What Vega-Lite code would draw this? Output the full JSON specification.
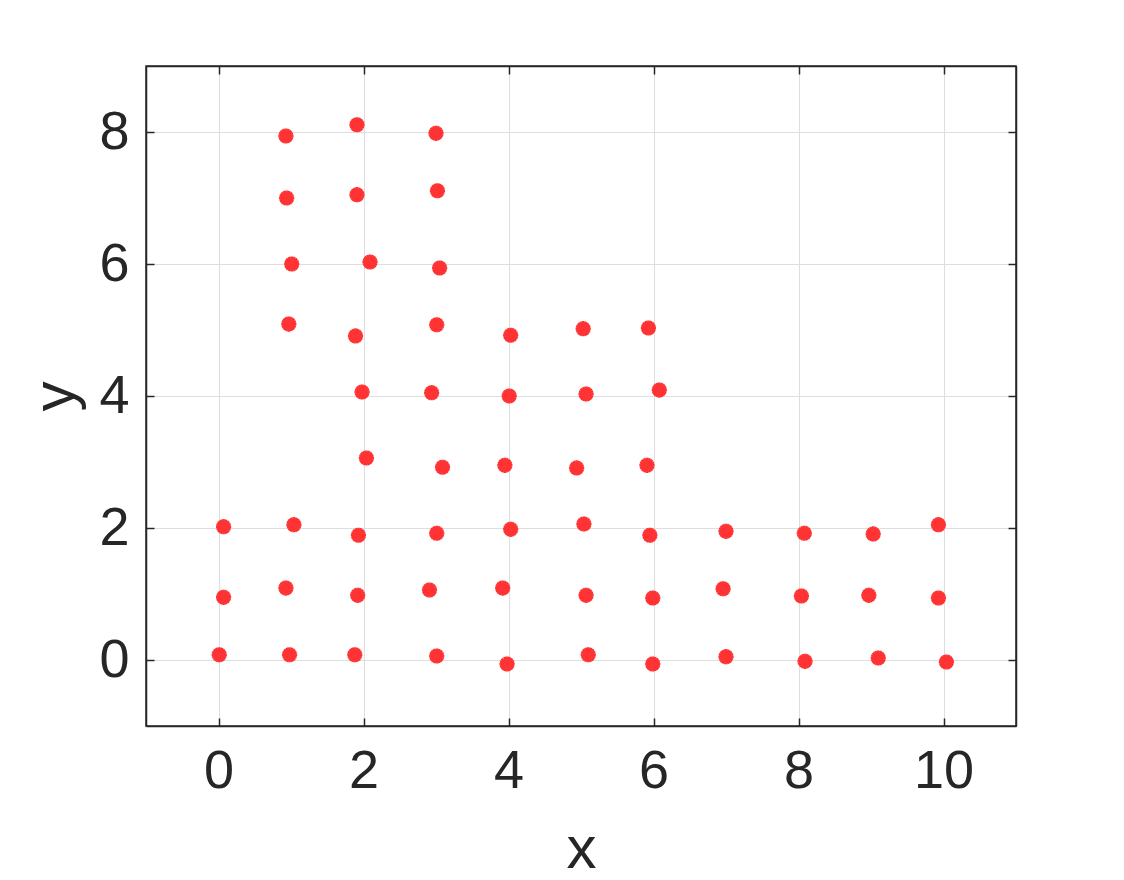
{
  "$schema": "https://vega.github.io/schema/vega-lite/v6.json",
  "width": 870,
  "height": 660,
  "autosize": "none",
  "padding": {"left": 146, "top": 66, "right": 108, "bottom": 154},
  "background": "white",
  "config": {
    "view": {"stroke": "#262626", "strokeWidth": 1.5},
    "axis": {
      "labelFont": "Liberation Sans",
      "titleFont": "Liberation Sans",
      "labelColor": "#262626",
      "titleColor": "#262626",
      "labelFontSize": 54,
      "titleFontSize": 60,
      "titleFontWeight": "normal",
      "domainColor": "#262626",
      "domainWidth": 1.5,
      "tickColor": "#262626",
      "tickSize": -8,
      "tickWidth": 1.5,
      "gridColor": "#dedede",
      "gridWidth": 1
    }
  },
  "data": {"values": [
    {"x": 0.01, "y": 0.08}, {"x": 0.98, "y": 0.08}, {"x": 1.88, "y": 0.08}, {"x": 3.01, "y": 0.06}, {"x": 3.98, "y": -0.06}, {"x": 5.10, "y": 0.08}, {"x": 5.99, "y": -0.06}, {"x": 7.00, "y": 0.05}, {"x": 8.09, "y": -0.02}, {"x": 9.10, "y": 0.03}, {"x": 10.04, "y": -0.03},
    {"x": 0.07, "y": 0.95}, {"x": 0.93, "y": 1.09}, {"x": 1.92, "y": 0.98}, {"x": 2.91, "y": 1.06}, {"x": 3.92, "y": 1.09}, {"x": 5.07, "y": 0.98}, {"x": 5.99, "y": 0.94}, {"x": 6.96, "y": 1.08}, {"x": 8.04, "y": 0.97}, {"x": 8.97, "y": 0.98}, {"x": 9.93, "y": 0.94},
    {"x": 0.07, "y": 2.02}, {"x": 1.04, "y": 2.05}, {"x": 1.93, "y": 1.89}, {"x": 3.01, "y": 1.92}, {"x": 4.03, "y": 1.98}, {"x": 5.04, "y": 2.06}, {"x": 5.95, "y": 1.89}, {"x": 7.00, "y": 1.95}, {"x": 8.08, "y": 1.92}, {"x": 9.03, "y": 1.91}, {"x": 9.93, "y": 2.05},
    {"x": 2.04, "y": 3.06}, {"x": 3.09, "y": 2.92}, {"x": 3.95, "y": 2.95}, {"x": 4.94, "y": 2.91}, {"x": 5.91, "y": 2.95},
    {"x": 1.98, "y": 4.06}, {"x": 2.94, "y": 4.05}, {"x": 4.01, "y": 4.00}, {"x": 5.07, "y": 4.03}, {"x": 6.08, "y": 4.09},
    {"x": 0.97, "y": 5.09}, {"x": 1.89, "y": 4.91}, {"x": 3.01, "y": 5.08}, {"x": 4.03, "y": 4.92}, {"x": 5.03, "y": 5.02}, {"x": 5.93, "y": 5.03},
    {"x": 1.01, "y": 6.00}, {"x": 2.09, "y": 6.03}, {"x": 3.05, "y": 5.94},
    {"x": 0.94, "y": 7.00}, {"x": 1.91, "y": 7.05}, {"x": 3.02, "y": 7.11},
    {"x": 0.93, "y": 7.94}, {"x": 1.91, "y": 8.11}, {"x": 3.00, "y": 7.98}
  ]},
  "layer": [
    {
      "mark": {
        "type": "point",
        "shape": "M-1,0L1,0M0,-1L0,1M-0.71,-0.71L0.71,0.71M-0.71,0.71L0.71,-0.71M-0.38,-0.92L0.38,0.92M-0.92,-0.38L0.92,0.38M-0.38,0.92L0.38,-0.92M-0.92,0.38L0.92,-0.38",
        "filled": false,
        "stroke": "#ff3333",
        "strokeWidth": 2.5,
        "size": 230,
        "opacity": 1
      },
      "encoding": {
        "x": {
          "field": "x", "type": "quantitative",
          "scale": {"domain": [-1, 11], "nice": false, "zero": false},
          "axis": {"values": [0, 2, 4, 6, 8, 10], "title": "x", "titleBaseline": "alphabetic", "titleY": 141, "labelPadding": 26, "grid": true}
        },
        "y": {
          "field": "y", "type": "quantitative",
          "scale": {"domain": [-1, 9], "nice": false, "zero": false},
          "axis": {"values": [0, 2, 4, 6, 8], "title": "y", "titleBaseline": "alphabetic", "titleX": -73, "labelPadding": 25, "grid": true}
        }
      }
    },
    {
      "mark": {"type": "point", "opacity": 0},
      "encoding": {
        "x": {
          "field": "x", "type": "quantitative",
          "scale": {"domain": [-1, 11], "nice": false, "zero": false},
          "axis": {"orient": "top", "values": [0, 2, 4, 6, 8, 10], "labels": false, "title": null, "grid": false}
        },
        "y": {
          "field": "y", "type": "quantitative",
          "scale": {"domain": [-1, 9], "nice": false, "zero": false},
          "axis": {"orient": "right", "values": [0, 2, 4, 6, 8], "labels": false, "title": null, "grid": false}
        }
      }
    }
  ],
  "resolve": {"axis": {"x": "independent", "y": "independent"}}
}
